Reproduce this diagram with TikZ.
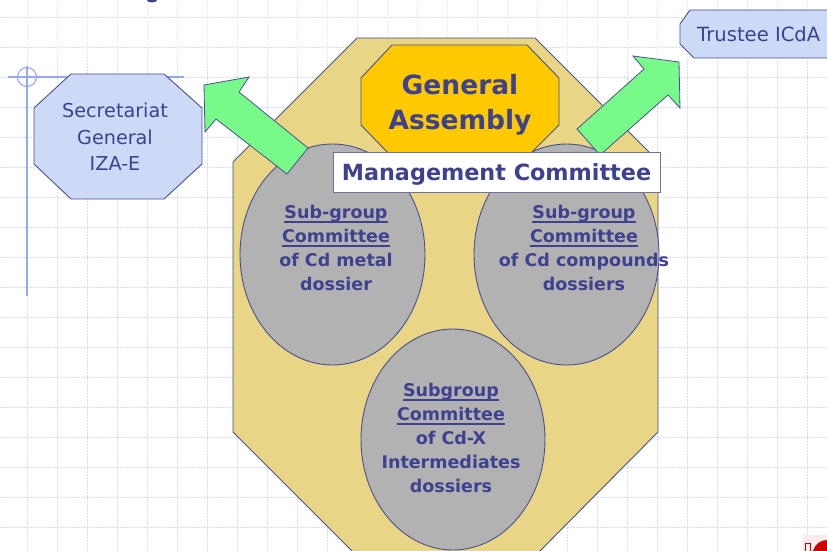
\documentclass[tikz,border=0pt]{standalone}
\usepackage{fontspec}
\setmainfont{DejaVu Sans}
\usetikzlibrary{shapes.geometric}

\definecolor{edgeblue}{HTML}{4B4F8E}
\definecolor{inkblue}{HTML}{3E4190}
\definecolor{octyellow}{HTML}{E9D586}
\definecolor{gaorange}{HTML}{FFC900}
\definecolor{sggrey}{HTML}{B2B2B2}
\definecolor{paleblue}{HTML}{CCDAF8}
\definecolor{arrowgreen}{HTML}{78FA8A}
\definecolor{gridblue}{HTML}{D6DDFA}
\definecolor{guideblue}{HTML}{95A8F0}

% underline drawn at a fixed depth below the baseline
\newcommand\subul[1]{\setbox0\hbox{#1}\rlap{\rule[-4pt]{\wd0}{1.2pt}}\box0}

\tikzset{
  gridline/.style={gridblue, line width=0.8pt, dash pattern=on 1.5pt off 1.5pt},
  guide/.style={guideblue, line width=1.1pt},
  octbody/.style={fill=octyellow, draw=edgeblue, line width=0.9pt},
  subgroup/.style={ellipse, fill=sggrey, draw=edgeblue, line width=0.9pt,
    minimum width=185pt, minimum height=221pt, inner sep=0pt},
  sgtext/.style={text=inkblue, align=center, inner sep=0pt,
    font=\fontsize{17.5}{24}\selectfont\bfseries},
  flowarrow/.style={fill=arrowgreen, draw=edgeblue, line width=0.8pt, line join=miter},
  gabody/.style={fill=gaorange, draw=edgeblue, line width=0.9pt},
  gatext/.style={text=inkblue, align=center, inner sep=0pt,
    font=\fontsize{26.5}{35}\selectfont\bfseries},
  mgmtbox/.style={fill=white, draw=edgeblue!80, line width=0.9pt,
    minimum width=327pt, minimum height=40pt, inner sep=0pt, text=inkblue,
    text height=17.4pt, text depth=0pt,
    font=\fontsize{22.3}{26}\selectfont\bfseries},
  idbody/.style={fill=paleblue, draw=edgeblue, line width=0.9pt},
  idtext/.style={text=inkblue, align=center, inner sep=0pt},
}

\begin{document}
\begin{tikzpicture}[x=1pt,y=-1pt]
\useasboundingbox (0,0) rectangle (827,551);
\clip (0,0) rectangle (827,551);
\fill[white] (0,0) rectangle (827,551);

% dotted background grid
\foreach \gx in {27,57,...,807} \draw[gridline] (\gx,0) -- (\gx,551);
\foreach \gy in {17,47,...,527} \draw[gridline] (0,\gy) -- (827,\gy);

% crosshair guide at the top left
\draw[guide] (8,77) -- (184,77);
\draw[guide] (27,66) -- (27,296);
\draw[guide] (27,77) circle[radius=9.5];

% heading fragment at the top edge
\fill[inkblue] (152,0) ellipse[x radius=5, y radius=2.5];

% large octagonal body
\filldraw[octbody] (357,38) -- (535,38) -- (658,161) -- (658,432) -- (535,556)
  -- (357,556) -- (233,432) -- (233,162) -- cycle;

% sub-group committees
\node[subgroup] (sgmetal) at (332.5,254.5) {};
\node[subgroup] (sgcomp) at (566.5,254.5) {};
\node[subgroup, minimum width=184pt] (sgint) at (453,439.5) {};

\node[sgtext] (sgmetal-label) at (336,248)
  {\subul{Sub-group}\\\subul{Committee}\\of Cd metal\\dossier};
\node[sgtext] (sgcomp-label) at (584,248)
  {\subul{Sub-group}\\\subul{Committee}\\of Cd compounds\\dossiers};
\node[sgtext] (sgint-label) at (451,438)
  {\subul{Subgroup}\\\subul{Committee}\\of Cd-X\\Intermediates\\dossiers};

% block arrows towards the secretariat and the trustee
\filldraw[flowarrow] (204,85) -- (249,77) -- (239,92) -- (308,148) -- (287,174)
  -- (216,119) -- (205,132) -- cycle;
\filldraw[flowarrow] (679,62) -- (680,108) -- (668,95) -- (600,155) -- (577,129)
  -- (644,69) -- (633,56) -- cycle;

% general assembly
\filldraw[gabody] (392,45) -- (527,45) -- (559,78) -- (559,125) -- (527,157)
  -- (392,157) -- (361,125) -- (361,78) -- cycle;
\node[gatext] (ga) at (460,105) {General\\Assembly};

% management committee
\node[mgmtbox] (mc) at (496.5,172) {Management Committee};

% secretariat general
\filldraw[idbody] (71,74) -- (164,74) -- (202,108) -- (202,164) -- (164,199)
  -- (71,199) -- (34,164) -- (34,108) -- cycle;
\node[idtext, font=\fontsize{19.2}{26.5}\selectfont] (sec) at (115,137)
  {Secretariat\\General\\IZA-E};

% trustee
\filldraw[idbody] (690,10) -- (860,10) -- (860,58) -- (694,58) -- (680,44)
  -- (680,24) -- cycle;
\node[idtext, anchor=base west, font=\fontsize{19.6}{24}\selectfont] (trustee)
  at (697,42) {Trustee ICdA};

% logo fragment in the lower right corner
\fill[red!8] (803,535) rectangle (827,551);
\draw[red!75!black, line width=0.8pt] (805.5,543) rectangle (810,552);
\fill[red!80!black] (813,551) .. controls (815,544) and (821,540) .. (827,540)
  -- (827,551) -- cycle;
\end{tikzpicture}
\end{document}
